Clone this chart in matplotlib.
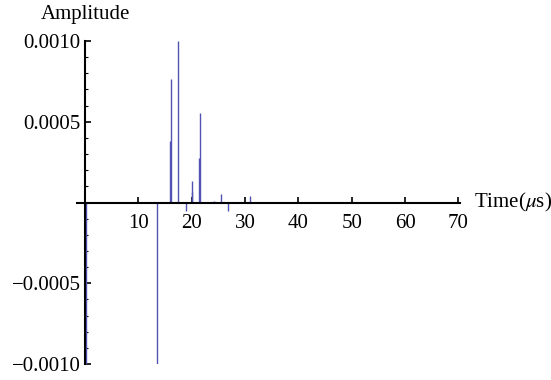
import matplotlib.pyplot as plt
from matplotlib.ticker import MultipleLocator, FixedLocator

plt.rcParams['font.family'] = 'Liberation Serif'
plt.rcParams['mathtext.fontset'] = 'stix'

# spike times (microseconds) and amplitudes
times = [0.15, 13.56, 16.0, 16.1, 17.5, 18.9, 20.0, 20.1, 21.4, 21.6, 24.1, 25.5, 26.9, 30.9]
amps = [-0.0010, -0.0010, 0.00038, 0.000765, 0.0010, -0.00005, 0.000136, 0.000066,
        0.000276, 0.000556, 0.00001, 0.00005, -0.000054, 0.00004]

xticks = [10, 20, 30, 40, 50, 60, 70]
yticks = [-0.0010, -0.0005, 0.0005, 0.0010]
ylabels = ['\u22120.0010', '\u22120.0005', '0.0005', '0.0010']

fig = plt.figure(figsize=(5.51, 3.80), dpi=100)
ax = fig.add_axes([77/551, 1-364/380, 383/551, 323/380])

ax.vlines(times, 0, amps, color='#5252b4', linewidth=1.0)

ax.set_xlim(-1.5, 70.3)
ax.set_ylim(-0.0010, 0.0010)

for s in ['top', 'right']:
    ax.spines[s].set_visible(False)
ax.spines['left'].set_position(('data', 0))
ax.spines['bottom'].set_position(('data', 0))
ax.spines['left'].set_linewidth(1.5)
ax.spines['bottom'].set_linewidth(1.5)

ax.xaxis.set_major_locator(FixedLocator(xticks))
ax.set_xticklabels([str(v) for v in xticks])
ax.yaxis.set_major_locator(FixedLocator(yticks))
ax.set_yticklabels(ylabels)
ax.yaxis.set_minor_locator(MultipleLocator(0.0001))

ax.tick_params(axis='x', direction='in', length=4, width=1.2, pad=8, labelsize=15)
ax.tick_params(axis='y', which='major', direction='in', length=4, width=1.2, pad=3, labelsize=15)
ax.tick_params(axis='y', which='minor', direction='in', length=2, width=0.8)

ax.annotate('Amplitude', xy=(0, 0.0010), xycoords='data', xytext=(0, 15.5),
            textcoords='offset points', ha='center', va='baseline', fontsize=15,
            annotation_clip=False)
ax.annotate(r'Time($\mu$s)', xy=(70.3, 0), xycoords='data', xytext=(10, 0),
            textcoords='offset points', ha='left', va='center', fontsize=15,
            annotation_clip=False)

fig.savefig('out.png', dpi=100)
